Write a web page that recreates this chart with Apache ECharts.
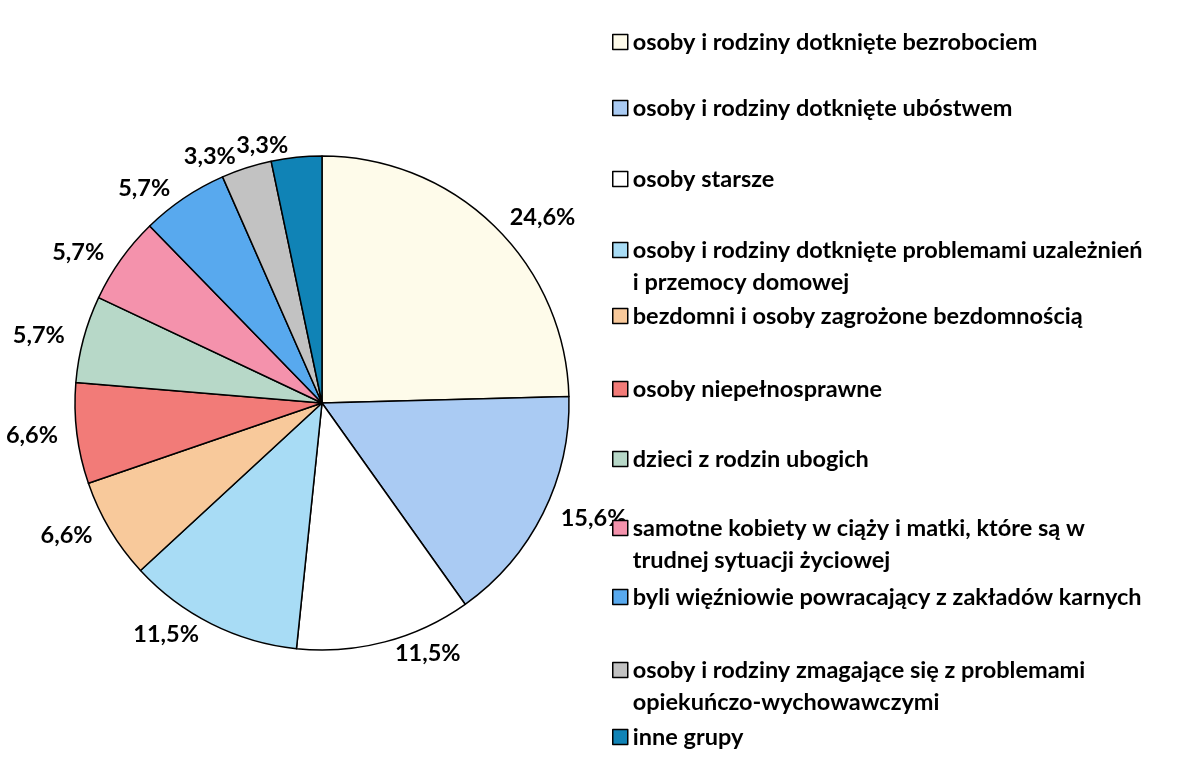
<!DOCTYPE html>
<html>
<head>
<meta charset="utf-8">
<script src="https://cdn.jsdelivr.net/npm/echarts@6/dist/echarts.min.js"></script>
<style>
  html, body { margin: 0; padding: 0; background: #fff; }
  #chart { width: 1188px; height: 782px; }
</style>
</head>
<body>
<div id="chart"></div>
<script>
const NAMES = [
  "osoby i rodziny dotknięte bezrobociem",
  "osoby i rodziny dotknięte ubóstwem",
  "osoby starsze",
  "osoby i rodziny dotknięte problemami uzależnień i przemocy domowej",
  "bezdomni i osoby zagrożone bezdomnością",
  "osoby niepełnosprawne",
  "dzieci z rodzin ubogich",
  "samotne kobiety w ciąży i matki, które są w trudnej sytuacji życiowej",
  "byli więźniowie powracający z zakładów karnych",
  "osoby i rodziny zmagające się z problemami opiekuńczo-wychowawczymi",
  "inne grupy",
];
const VALUES = [24.6, 15.6, 11.5, 11.5, 6.6, 6.6, 5.7, 5.7, 5.7, 3.3, 3.3];
const COLORS = [
  "#fefbea", "#aacbf3", "#ffffff", "#a8dcf5", "#f8c99b", "#f27b78",
  "#b7d8c8", "#f492ac", "#58a9ee", "#c2c2c2", "#1083b6",
];
// legend text as wrapped in the original (leading blank line keeps the icon on line 1)
const LEGEND_TEXT = {
  [NAMES[3]]: " \nosoby i rodziny dotknięte problemami uzależnień\ni przemocy domowej",
  [NAMES[7]]: " \nsamotne kobiety w ciąży i matki, które są w\ntrudnej sytuacji życiowej",
  [NAMES[9]]: " \nosoby i rodziny zmagające się z problemami\nopiekuńczo-wychowawczymi",
};
// vertical centre of each legend entry's first line
const LEGEND_Y = [42, 108, 179, 250, 316, 389, 459, 528, 597, 670, 737];

const FONT = "Lato";
const FS = 23.5;
const LH = 32;

const chart = echarts.init(document.getElementById("chart"), null, { renderer: "canvas" });

const legends = NAMES.map((name, i) => {
  const twoLines = !!LEGEND_TEXT[name];
  return {
    data: [name],
    left: 612,
    top: twoLines ? LEGEND_Y[i] - 1.5 * LH : LEGEND_Y[i] - LH / 2,
    orient: "vertical",
    padding: 0,
    itemWidth: 15,
    itemHeight: 15,
    itemGap: 0,
    icon: "rect",
    selectedMode: false,
    itemStyle: { borderColor: "#000", borderWidth: 1.5 },
    formatter: (n) => LEGEND_TEXT[n] || n,
    textStyle: {
      fontFamily: FONT,
      fontWeight: "bold",
      fontSize: FS,
      color: "#000",
      lineHeight: LH,
    },
  };
});

chart.setOption({
  backgroundColor: "#fff",
  animation: false,
  legend: legends,
  series: [
    {
      type: "pie",
      center: [322, 403],
      radius: 247,
      startAngle: 90,
      clockwise: true,
      avoidLabelOverlap: false,
      itemStyle: { borderColor: "#000", borderWidth: 1.5 },
      label: {
        show: true,
        position: "outside",
        fontFamily: FONT,
        fontWeight: "bold",
        fontSize: FS,
        color: "#000",
        formatter: (p) => p.value.toFixed(1).replace(".", ",") + "%",
      },
      labelLine: { show: false, length: 12, length2: 2 },
      emphasis: { disabled: true },
      data: NAMES.map((name, i) => ({
        name,
        value: VALUES[i],
        itemStyle: { color: COLORS[i] },
      })),
    },
  ],
});
</script>
</body>
</html>
